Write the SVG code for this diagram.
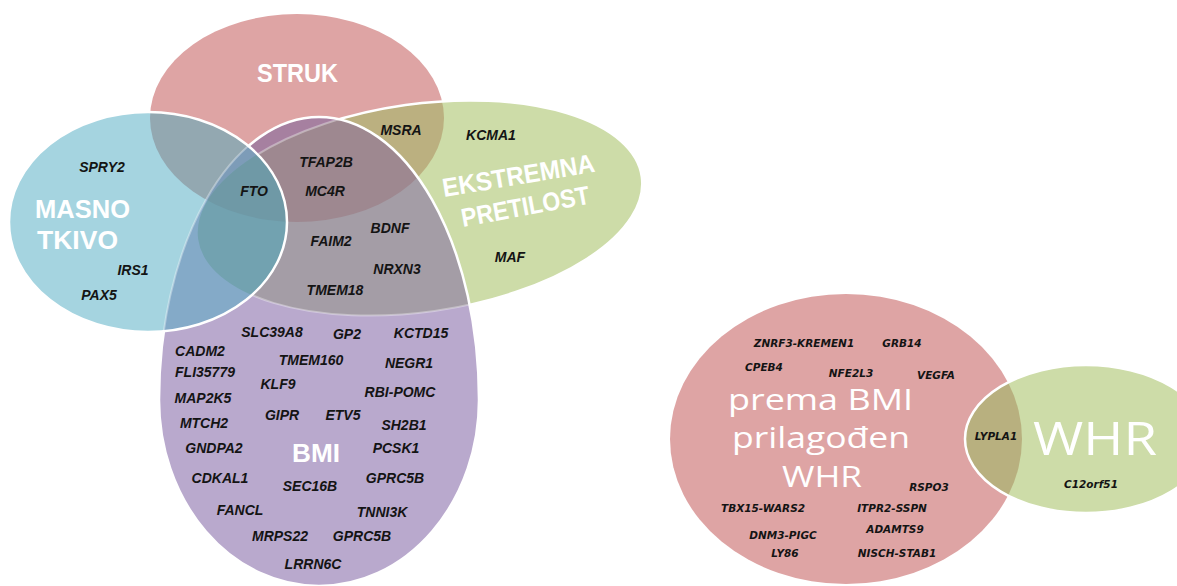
<svg xmlns="http://www.w3.org/2000/svg" xmlns:xlink="http://www.w3.org/1999/xlink" width="1177" height="586" viewBox="0 0 1177 586">
<style>
.gene{font-family:"Liberation Sans",Arial,sans-serif;font-weight:bold;font-style:italic;font-size:14px;fill:#141414;text-anchor:middle}
.gene2{font-family:"DejaVu Sans","Liberation Sans",sans-serif;font-weight:bold;font-style:oblique;font-size:10.5px;fill:#141414;text-anchor:middle}
.lbl{font-family:"Liberation Sans",Arial,sans-serif;font-weight:bold;font-size:26px;fill:#ffffff}
.lbl2{font-family:"Open Sans","Liberation Sans",sans-serif;font-weight:normal;fill:#ffffff}
.edge{fill:none;stroke:#ffffff;stroke-width:2.5}
.faint{fill:none;stroke:#ffffff;stroke-width:2;stroke-opacity:0.35}
</style>
<defs>
<ellipse id="S" cx="297" cy="118" rx="147" ry="104"/>
<ellipse id="G" cx="420" cy="208" rx="224" ry="104" transform="rotate(-8 420 208)"/>
<ellipse id="B" cx="148" cy="222" rx="139" ry="110"/>
<path id="P" d="M159,400 A160,283 0 0 1 479,400 A160,186 0 0 1 159,400 Z"/>
<ellipse id="R1" cx="846" cy="439" rx="176" ry="145"/>
<ellipse id="R2" cx="1086" cy="439" rx="121" ry="74"/>
<clipPath id="cS"><use xlink:href="#S" href="#S"/></clipPath>
<clipPath id="cG"><use xlink:href="#G" href="#G"/></clipPath>
<clipPath id="cB"><use xlink:href="#B" href="#B"/></clipPath>
<clipPath id="cP"><use xlink:href="#P" href="#P"/></clipPath>
<clipPath id="cR1"><use xlink:href="#R1" href="#R1"/></clipPath>
</defs>

<g id="shapes-left">
 <g id="struk-shape"><use href="#S" fill="#dea4a4"/></g>
 <g id="ekstremna-shape">
  <use href="#G" fill="#cddca8"/>
  <g clip-path="url(#cS)"><use href="#G" fill="#bbb080"/></g>
  <use href="#G" class="edge"/>
 </g>
 <g id="bmi-shape">
  <use href="#P" fill="#b9a9cd"/>
  <g clip-path="url(#cS)"><use href="#P" fill="#a680a0"/></g>
  <g clip-path="url(#cG)"><use href="#P" fill="#a49da6"/></g>
  <g clip-path="url(#cS)"><g clip-path="url(#cG)"><use href="#P" fill="#9e8890"/></g></g>
  <g clip-path="url(#cP)"><use href="#G" class="faint"/></g>
  <use href="#P" class="edge"/>
 </g>
 <g id="masno-shape">
  <use href="#B" fill="#a5d4e0"/>
  <g clip-path="url(#cS)"><use href="#B" fill="#93a8b1"/></g>
  <g clip-path="url(#cP)"><use href="#B" fill="#84aac8"/></g>
  <g clip-path="url(#cS)"><g clip-path="url(#cP)"><use href="#B" fill="#7d9cb8"/></g></g>
  <g clip-path="url(#cG)"><g clip-path="url(#cP)"><use href="#B" fill="#72a2b0"/></g></g>
  <g clip-path="url(#cS)"><g clip-path="url(#cG)"><g clip-path="url(#cP)"><use href="#B" fill="#6f99a6"/></g></g></g>
  <g clip-path="url(#cB)"><use href="#P" class="faint"/></g>
  <use href="#B" class="edge"/>
 </g>
</g>

<g id="shapes-right">
 <g id="bmi-whr-shape"><use href="#R1" fill="#dea4a4"/></g>
 <g id="whr-shape">
  <use href="#R2" fill="#cddca8"/>
  <g clip-path="url(#cR1)"><use href="#R2" fill="#b8b07f"/></g>
  <use href="#R2" class="edge"/>
 </g>
</g>

<g id="connectors"></g>

<g id="labels">
 <text id="lbl-struk" class="lbl" x="257" y="82" textLength="81" lengthAdjust="spacingAndGlyphs">STRUK</text>
 <text id="lbl-masno" class="lbl" x="35" y="218" textLength="95" lengthAdjust="spacingAndGlyphs">MASNO</text>
 <text id="lbl-tkivo" class="lbl" x="37" y="249" textLength="81" lengthAdjust="spacingAndGlyphs">TKIVO</text>
 <text id="lbl-ekstremna" class="lbl" x="444" y="197" textLength="154" lengthAdjust="spacingAndGlyphs" transform="rotate(-9.5 444 197)">EKSTREMNA</text>
 <text id="lbl-pretilost" class="lbl" x="463" y="227" textLength="130" lengthAdjust="spacingAndGlyphs" transform="rotate(-10.5 463 227)">PRETILOST</text>
 <text id="lbl-bmi" class="lbl" x="292" y="462" textLength="48" lengthAdjust="spacingAndGlyphs">BMI</text>
 <text class="lbl2" font-size="30" x="728" y="410" textLength="185" lengthAdjust="spacingAndGlyphs">prema BMI</text>
 <text class="lbl2" font-size="30" x="732" y="448" textLength="178" lengthAdjust="spacingAndGlyphs">prilagođen</text>
 <text class="lbl2" font-size="30" x="782" y="487" textLength="80" lengthAdjust="spacingAndGlyphs">WHR</text>
 <text id="lbl-whr" class="lbl2" font-size="46" x="1033" y="455" textLength="124" lengthAdjust="spacingAndGlyphs">WHR</text>
</g>

<g id="genes-left">
 <text class="gene" x="102" y="172">SPRY2</text>
 <text class="gene" x="254" y="196">FTO</text>
 <text class="gene" x="326" y="167">TFAP2B</text>
 <text class="gene" x="325" y="196">MC4R</text>
 <text class="gene" x="401" y="135">MSRA</text>
 <text class="gene" x="491" y="140">KCMA1</text>
 <text class="gene" x="390" y="233">BDNF</text>
 <text class="gene" x="331" y="246">FAIM2</text>
 <text class="gene" x="397" y="274">NRXN3</text>
 <text class="gene" x="335" y="295">TMEM18</text>
 <text class="gene" x="510" y="262">MAF</text>
 <text class="gene" x="133" y="275">IRS1</text>
 <text class="gene" x="99" y="300">PAX5</text>
 <text class="gene" x="272" y="337">SLC39A8</text>
 <text class="gene" x="347" y="339">GP2</text>
 <text class="gene" x="421" y="338">KCTD15</text>
 <text class="gene" x="200" y="356">CADM2</text>
 <text class="gene" x="311" y="365">TMEM160</text>
 <text class="gene" x="409" y="368">NEGR1</text>
 <text class="gene" x="205" y="377">FLI35779</text>
 <text class="gene" x="278" y="389">KLF9</text>
 <text class="gene" x="400" y="397">RBI-POMC</text>
 <text class="gene" x="203" y="403">MAP2K5</text>
 <text class="gene" x="282" y="420">GIPR</text>
 <text class="gene" x="343" y="420">ETV5</text>
 <text class="gene" x="404" y="430">SH2B1</text>
 <text class="gene" x="204" y="428">MTCH2</text>
 <text class="gene" x="214" y="453">GNDPA2</text>
 <text class="gene" x="396" y="453">PCSK1</text>
 <text class="gene" x="220" y="483">CDKAL1</text>
 <text class="gene" x="310" y="491">SEC16B</text>
 <text class="gene" x="395" y="483">GPRC5B</text>
 <text class="gene" x="240" y="515">FANCL</text>
 <text class="gene" x="382" y="517">TNNI3K</text>
 <text class="gene" x="280" y="541">MRPS22</text>
 <text class="gene" x="362" y="541">GPRC5B</text>
 <text class="gene" x="313" y="569">LRRN6C</text>
</g>

<g id="genes-right">
 <text class="gene2" x="804" y="347">ZNRF3-KREMEN1</text>
 <text class="gene2" x="902" y="347">GRB14</text>
 <text class="gene2" x="764" y="371">CPEB4</text>
 <text class="gene2" x="851" y="377">NFE2L3</text>
 <text class="gene2" x="936" y="379">VEGFA</text>
 <text class="gene2" x="996" y="440">LYPLA1</text>
 <text class="gene2" x="1091" y="488">C12orf51</text>
 <text class="gene2" x="929" y="491">RSPO3</text>
 <text class="gene2" x="763" y="512">TBX15-WARS2</text>
 <text class="gene2" x="892" y="512">ITPR2-SSPN</text>
 <text class="gene2" x="895" y="533">ADAMTS9</text>
 <text class="gene2" x="783" y="539">DNM3-PIGC</text>
 <text class="gene2" x="785" y="557">LY86</text>
 <text class="gene2" x="897" y="557">NISCH-STAB1</text>
</g>
</svg>
